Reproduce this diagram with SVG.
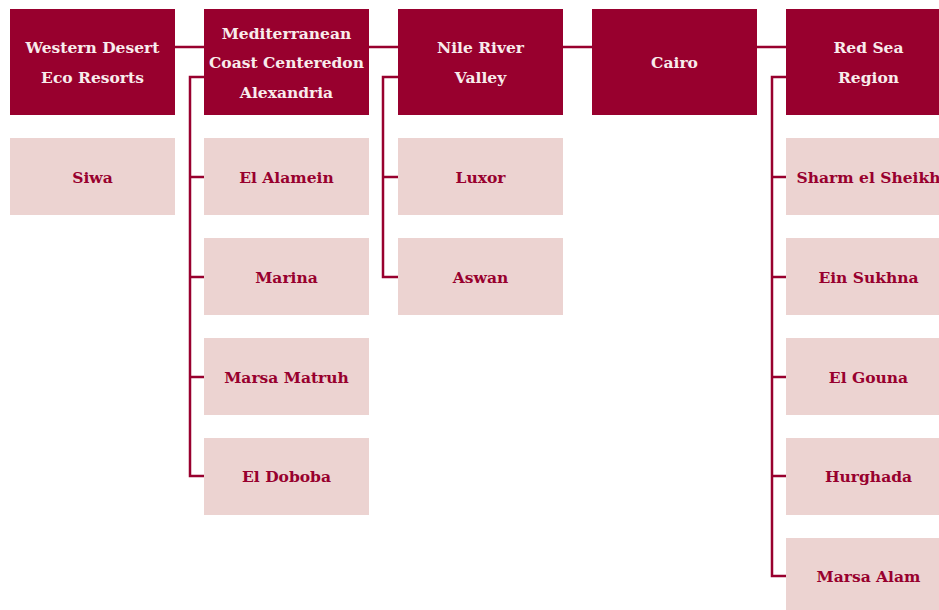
<svg xmlns="http://www.w3.org/2000/svg" width="939" height="610" viewBox="0 0 939 610">
<style>
.p{fill:#98002e}
.c{fill:#ecd3d1}
text{font-family:"DejaVu Serif","Liberation Serif",serif;font-weight:bold;font-size:15.5px;text-anchor:middle;dominant-baseline:central}
.pt{fill:#f8ecec}
.ct{fill:#98002e}
.ln{stroke:#98002e;stroke-width:2.5;fill:none}
</style>
<rect width="939" height="610" fill="#ffffff"/>
<g id="connectors">
<path class="ln" d="M175 47H204M369 47H398M563 47H592M757 47H786"/>
<path class="ln" d="M204 77H190V476H204M190 177H204M190 277H204M190 377H204"/>
<path class="ln" d="M398 77H383V277H398M383 177H398"/>
<path class="ln" d="M786 77H772V576H786M772 177H786M772 277H786M772 377H786M772 476H786"/>
</g>
<g id="n-western"><rect class="p" x="10" y="9" width="165" height="106"/><text class="pt" x="92.5" y="47">Western Desert</text><text class="pt" x="92.5" y="77">Eco Resorts</text></g>
<g id="n-med"><rect class="p" x="204" y="9" width="165" height="106"/><text class="pt" x="286.5" y="33">Mediterranean</text><text class="pt" x="286.5" y="62">Coast Centeredon</text><text class="pt" x="286.5" y="92">Alexandria</text></g>
<g id="n-nile"><rect class="p" x="398" y="9" width="165" height="106"/><text class="pt" x="480.5" y="47">Nile River</text><text class="pt" x="480.5" y="77">Valley</text></g>
<g id="n-cairo"><rect class="p" x="592" y="9" width="165" height="106"/><text class="pt" x="674.5" y="62">Cairo</text></g>
<g id="n-redsea"><rect class="p" x="786" y="9" width="165" height="106"/><text class="pt" x="868.5" y="47">Red Sea</text><text class="pt" x="868.5" y="77">Region</text></g>
<g id="n-siwa"><rect class="c" x="10" y="138" width="165" height="77"/><text class="ct" x="92.5" y="177">Siwa</text></g>
<g id="n-alamein"><rect class="c" x="204" y="138" width="165" height="77"/><text class="ct" x="286.5" y="177">El Alamein</text></g>
<g id="n-marina"><rect class="c" x="204" y="238" width="165" height="77"/><text class="ct" x="286.5" y="277">Marina</text></g>
<g id="n-matruh"><rect class="c" x="204" y="338" width="165" height="77"/><text class="ct" x="286.5" y="377">Marsa Matruh</text></g>
<g id="n-doboba"><rect class="c" x="204" y="438" width="165" height="77"/><text class="ct" x="286.5" y="476">El Doboba</text></g>
<g id="n-luxor"><rect class="c" x="398" y="138" width="165" height="77"/><text class="ct" x="480.5" y="177">Luxor</text></g>
<g id="n-aswan"><rect class="c" x="398" y="238" width="165" height="77"/><text class="ct" x="480.5" y="277">Aswan</text></g>
<g id="n-sharm"><rect class="c" x="786" y="138" width="165" height="77"/><text class="ct" x="868.5" y="177">Sharm el Sheikh</text></g>
<g id="n-sukhna"><rect class="c" x="786" y="238" width="165" height="77"/><text class="ct" x="868.5" y="277">Ein Sukhna</text></g>
<g id="n-gouna"><rect class="c" x="786" y="338" width="165" height="77"/><text class="ct" x="868.5" y="377">El Gouna</text></g>
<g id="n-hurghada"><rect class="c" x="786" y="438" width="165" height="77"/><text class="ct" x="868.5" y="476">Hurghada</text></g>
<g id="n-alam"><rect class="c" x="786" y="538" width="165" height="77"/><text class="ct" x="868.5" y="576">Marsa Alam</text></g>
</svg>
